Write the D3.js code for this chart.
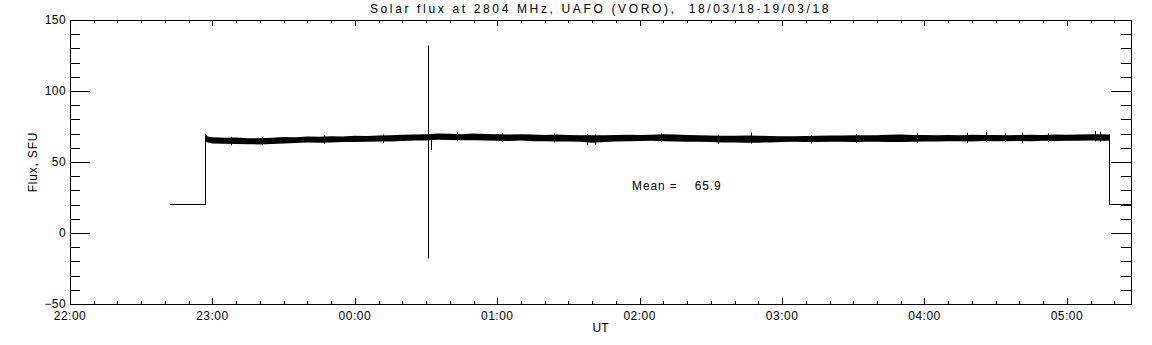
<!DOCTYPE html>
<html>
<head>
<meta charset="utf-8">
<script src="https://cdn.jsdelivr.net/npm/d3@7"></script>
<style>
  body { margin: 0; background: #fff; }
  svg { display: block; }
  text { font-family: "Liberation Sans", Arial, sans-serif; fill: #000; }
</style>
</head>
<body>
<div id="chart"></div>
<script>
// Chart text
const titleText = 'Solar flux at 2804 MHz, UAFO (VORO),  18/03/18-19/03/18';
const yLabel = 'Flux, SFU';
const xLabel = 'UT';
const meanValue = 65.9;

// Axis ranges / ticks
const timeStart = '22:00';
const timeEnd = '05:27';
const yTicks = [-50, 0, 50, 100, 150];
const xTickLabels = ['22:00', '23:00', '00:00', '01:00', '02:00', '03:00', '04:00', '05:00'];

// Calibration level before and after the observing run
const baseLevel = 20;
const baseStart = ['22:42', '22:57'];
const baseEnd = ['05:18', '05:27'];

// Noise envelope of the flux record (max / min per sample)
const bandTime = [
  '22:57', '22:58', '23:00', '23:05', '23:10', '23:15', '23:20', '23:25', '23:30', '23:35',
  '23:40', '23:45', '23:50', '23:55', '00:00', '00:05', '00:10', '00:15', '00:20', '00:25',
  '00:30', '00:35', '00:40', '00:45', '00:50', '00:55', '01:00', '01:05', '01:10', '01:15',
  '01:20', '01:25', '01:30', '01:35', '01:40', '01:45', '01:50', '01:55', '02:00', '02:05',
  '02:10', '02:15', '02:20', '02:25', '02:30', '02:35', '02:40', '02:45', '02:50', '02:55',
  '03:00', '03:05', '03:10', '03:15', '03:20', '03:25', '03:30', '03:35', '03:40', '03:45',
  '03:50', '03:55', '04:00', '04:05', '04:10', '04:15', '04:20', '04:25', '04:30', '04:35',
  '04:40', '04:45', '04:50', '04:55', '05:00', '05:05', '05:10', '05:15', '05:18'
];
const bandHigh = [
  70.0, 68.0, 67.4, 67.0, 67.2, 66.8, 66.7, 67.1, 67.6, 67.4,
  68.0, 67.7, 68.1, 67.9, 68.4, 68.3, 68.7, 68.8, 69.2, 69.4,
  69.6, 70.1, 69.9, 69.6, 70.0, 69.7, 69.5, 69.3, 69.6, 69.4,
  69.1, 69.3, 69.0, 68.8, 68.9, 68.8, 69.1, 69.2, 69.0, 69.2,
  69.5, 69.3, 69.0, 68.8, 68.7, 68.5, 68.4, 68.6, 68.5, 68.3,
  68.2, 68.1, 68.3, 68.5, 68.7, 68.6, 68.8, 68.9, 68.8, 69.2,
  69.4, 69.1, 69.0, 68.8, 69.1, 68.9, 69.2, 69.0, 69.1, 68.8,
  69.0, 69.2, 69.1, 69.3, 69.2, 69.4, 69.6, 69.5, 69.4
];
const bandLow = [
  64.2, 63.7, 63.0, 62.8, 62.6, 62.5, 62.4, 62.7, 63.1, 63.4,
  63.7, 63.6, 63.8, 64.0, 64.1, 64.2, 64.4, 64.5, 64.8, 65.1,
  65.2, 65.7, 65.5, 65.4, 65.3, 65.1, 65.0, 64.8, 65.1, 64.7,
  64.6, 64.5, 64.4, 64.2, 63.6, 64.0, 64.5, 64.7, 64.8, 65.0,
  64.6, 64.5, 64.3, 64.2, 64.0, 63.8, 63.7, 63.6, 63.6, 63.8,
  64.0, 64.2, 64.1, 64.0, 64.2, 64.3, 64.1, 64.2, 64.3, 64.1,
  64.0, 64.3, 64.5, 64.4, 64.6, 64.7, 64.5, 64.8, 64.7, 64.6,
  64.8, 64.7, 64.9, 64.8, 65.0, 64.9, 65.1, 65.0, 65.0
];

// Isolated noise spikes sticking out of the band
const spikeTime = [
  '23:08', '23:21', '23:47', '00:12', '00:32', '00:43', '01:02', '01:24', '01:38', '01:41',
  '02:09', '02:33', '02:47', '03:12', '03:31', '03:57', '04:18', '04:26', '04:34', '04:41',
  '04:52', '05:12', '05:14'
];
const spikeTop = [
  67.8, 67.5, 68.9, 69.4, 66.0, 70.8, 70.6, 69.9, 69.5, 69.4,
  70.2, 69.2, 70.9, 69.0, 69.6, 70.3, 70.7, 71.2, 70.2, 70.8,
  70.1, 72.0, 71.4
];
const spikeBottom = [
  61.8, 61.9, 62.8, 63.5, 58.5, 65.0, 64.0, 63.8, 61.8, 62.0,
  64.0, 62.9, 63.0, 62.9, 63.4, 63.3, 63.4, 63.8, 64.0, 63.5,
  64.1, 64.5, 64.3
];

// Interference burst
const burstTime = '00:31';
const burstTop = 132;
const burstBottom = -18;

const width = 1152;
const height = 345;
const margin = { top: 20, right: 21, bottom: 41, left: 70 };

// Times before noon belong to the next day
function toDate(s) {
  const [h, m] = s.split(':').map(Number);
  return new Date(Date.UTC(2018, 2, h >= 12 ? 18 : 19, h, m));
}

const svg = d3.select('#chart')
  .append('svg')
  .attr('width', width)
  .attr('height', height);

const x = d3.scaleUtc()
  .domain([toDate(timeStart), toDate(timeEnd)])
  .range([margin.left, width - margin.right]);
const y = d3.scaleLinear()
  .domain([-50, 150])
  .range([height - margin.bottom, margin.top]);

const x0 = margin.left;
const x1 = width - margin.right;
const y0 = height - margin.bottom;
const y1 = margin.top;

// Frame
svg.append('rect')
  .attr('x', x0 + 0.5).attr('y', y1 + 0.5)
  .attr('width', x1 - x0).attr('height', y0 - y1)
  .attr('fill', 'none').attr('stroke', '#000')
  .attr('shape-rendering', 'crispEdges');

// Y ticks on both sides, every 10, major every 50
const yAll = d3.range(-50, 151, 10);
const g = svg.append('g').attr('stroke', '#000').attr('shape-rendering', 'crispEdges');
yAll.forEach(v => {
  const len = v % 50 === 0 ? 20 : 10;
  const py = Math.round(y(v)) + 0.5;
  g.append('line').attr('x1', x0).attr('x2', x0 + len).attr('y1', py).attr('y2', py);
  g.append('line').attr('x1', x1).attr('x2', x1 - len).attr('y1', py).attr('y2', py);
});

// X ticks, every 10 minutes, major every hour
const xAll = d3.utcMinute.every(10).range(toDate(timeStart), toDate(timeEnd));
xAll.forEach(t => {
  const len = t.getUTCMinutes() === 0 ? 6 : 3;
  const px = Math.round(x(t)) + 0.5;
  g.append('line').attr('x1', px).attr('x2', px).attr('y1', y0).attr('y2', y0 - len);
  g.append('line').attr('x1', px).attr('x2', px).attr('y1', y1).attr('y2', y1 + len);
});

// Tick labels
svg.selectAll('.ylab')
  .data(yTicks)
  .join('text')
  .attr('x', x0 - 4)
  .attr('y', d => y(d) + 4)
  .attr('text-anchor', 'end')
  .style('font-size', '12px')
  .style('letter-spacing', '0.4px')
  .text(d => (d < 0 ? '\u2212' + Math.abs(d) : d));

svg.selectAll('.xlab')
  .data(xTickLabels)
  .join('text')
  .attr('x', d => x(toDate(d)))
  .attr('y', y0 + 16)
  .attr('text-anchor', 'middle')
  .style('font-size', '12px')
  .style('letter-spacing', '0.5px')
  .text(d => d);

// Titles
svg.append('text')
  .attr('x', (x0 + x1) / 2)
  .attr('y', 13)
  .attr('text-anchor', 'middle')
  .attr('xml:space', 'preserve')
  .style('font-size', '12px')
  .style('letter-spacing', '2.65px')
  .text(titleText);

svg.append('text')
  .attr('x', (x0 + x1) / 2)
  .attr('y', 332)
  .attr('text-anchor', 'middle')
  .style('font-size', '12px')
  .text(xLabel);

svg.append('text')
  .attr('transform', `translate(37,${(y0 + y1) / 2}) rotate(-90)`)
  .attr('text-anchor', 'middle')
  .style('font-size', '12px')
  .style('letter-spacing', '0.8px')
  .text(yLabel);

svg.append('text')
  .attr('x', 632)
  .attr('y', 190)
  .attr('xml:space', 'preserve')
  .style('font-size', '12px')
  .style('letter-spacing', '0.9px')
  .text(`Mean =    ${meanValue.toFixed(1)}`);

// Flux band
const band = bandTime.map((t, i) => ({ t: toDate(t), hi: bandHigh[i], lo: bandLow[i] }));
const area = d3.area()
  .x(d => x(d.t))
  .y0(d => y(d.lo))
  .y1(d => y(d.hi));
svg.append('path')
  .datum(band)
  .attr('d', area)
  .attr('fill', '#000');

// Spikes
svg.append('g')
  .selectAll('line')
  .data(spikeTime)
  .join('line')
  .attr('x1', d => Math.round(x(toDate(d))) + 0.5)
  .attr('x2', d => Math.round(x(toDate(d))) + 0.5)
  .attr('y1', (d, i) => y(spikeTop[i]))
  .attr('y2', (d, i) => y(spikeBottom[i]))
  .attr('stroke', '#000');

// Calibration steps at start and end
const line = d3.line().x(d => x(d[0])).y(d => y(d[1]));
const first = band[0];
const last = band[band.length - 1];
svg.append('path')
  .attr('d', line([
    [toDate(baseStart[0]), baseLevel],
    [toDate(baseStart[1]), baseLevel],
    [first.t, first.hi]
  ]))
  .attr('fill', 'none').attr('stroke', '#000').attr('shape-rendering', 'crispEdges');
svg.append('path')
  .attr('d', line([
    [last.t, last.hi],
    [toDate(baseEnd[0]), baseLevel],
    [toDate(baseEnd[1]), baseLevel]
  ]))
  .attr('fill', 'none').attr('stroke', '#000').attr('shape-rendering', 'crispEdges');

// Burst
svg.append('line')
  .attr('x1', Math.round(x(toDate(burstTime))) + 0.5)
  .attr('x2', Math.round(x(toDate(burstTime))) + 0.5)
  .attr('y1', y(burstTop))
  .attr('y2', y(burstBottom))
  .attr('stroke', '#000');
</script>
</body>
</html>
